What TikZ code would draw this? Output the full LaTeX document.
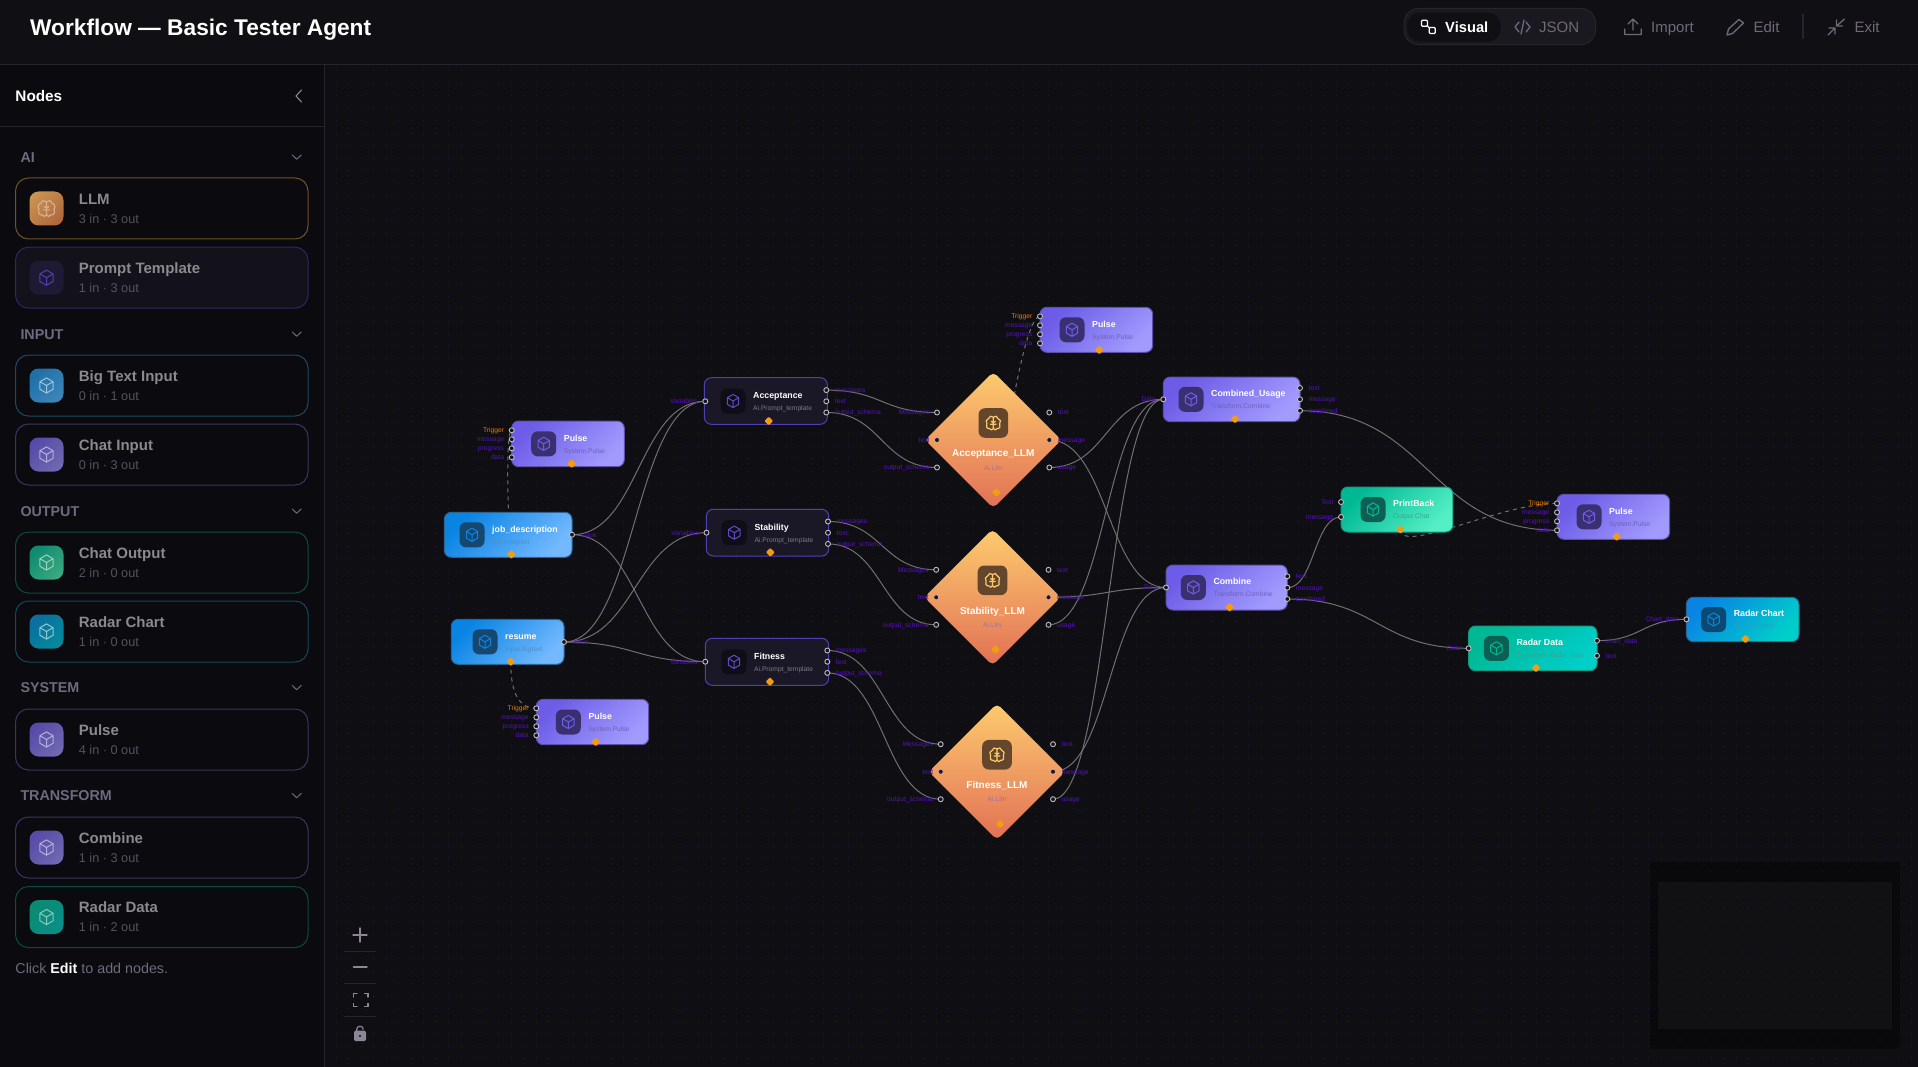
\documentclass[tikz,border=0pt]{standalone}
\usepackage{fontspec}
\setmainfont{Liberation Sans}
\usetikzlibrary{positioning,shapes.geometric,calc}
\pgfdeclarelayer{backdrop}
\pgfdeclarelayer{wires}
\pgfsetlayers{backdrop,wires,main}

\newcommand{\fs}[1]{\fontsize{#1}{#1}\selectfont}

\definecolor{canvasbg}{HTML}{0F0F13}
\definecolor{sidebg}{HTML}{0B0A0E}
\definecolor{topbg}{HTML}{100F14}
\definecolor{pillbg}{HTML}{1A191F}
\definecolor{rulecol}{HTML}{27242D}
\definecolor{griddot}{HTML}{221C3C}
\definecolor{portcol}{HTML}{5510BF}
\definecolor{trigcol}{HTML}{F07A00}
\definecolor{pincol}{HTML}{F39C12}
\definecolor{wirecol}{HTML}{707073}
\definecolor{chromecol}{HTML}{6F6A78}
\definecolor{toolcol}{HTML}{8D8598}
\definecolor{pulseA}{HTML}{6C5CE7}
\definecolor{pulseB}{HTML}{A29BFE}
\definecolor{pulseedge}{HTML}{5C50A8}
\definecolor{pulseicon}{HTML}{3A3070}
\definecolor{pulsesub}{HTML}{6E62B8}
\definecolor{inputA}{HTML}{0984E3}
\definecolor{inputB}{HTML}{74B9FF}
\definecolor{inputedge}{HTML}{2A6490}
\definecolor{inputicon}{HTML}{15476F}
\definecolor{inputsub}{HTML}{4F8FCC}
\definecolor{promptbg}{HTML}{1A1726}
\definecolor{promptedge}{HTML}{4F3FB5}
\definecolor{prompticon}{HTML}{0F0D16}
\definecolor{promptcube}{HTML}{5B4CCC}
\definecolor{promptsub}{HTML}{7E7A88}
\definecolor{chatA}{HTML}{00B894}
\definecolor{chatB}{HTML}{55EFC4}
\definecolor{chatedge}{HTML}{129A80}
\definecolor{chaticon}{HTML}{0C5F52}
\definecolor{chatsub}{HTML}{3AA595}
\definecolor{radarB}{HTML}{00CEC9}
\definecolor{radaricon}{HTML}{0A4A72}
\definecolor{radarsub}{HTML}{2E9FC0}
\definecolor{llmA}{HTML}{FDCB6E}
\definecolor{llmB}{HTML}{E17055}
\definecolor{llmicon}{HTML}{63462C}
\definecolor{llmsub}{HTML}{A5709A}
\definecolor{handleedge}{HTML}{BDBAC2}
\definecolor{handlebg}{HTML}{15141C}
\definecolor{handleglow}{HTML}{E8B088}
\definecolor{handledark}{HTML}{15153A}
\definecolor{sidetext}{HTML}{8A8A8E}
\definecolor{sidemuted}{HTML}{55525E}
\definecolor{sectioncol}{HTML}{6E6A80}
% sidebar tints
\definecolor{llmrim}{HTML}{6D5329}
\definecolor{llmtileA}{HTML}{C8924F}
\definecolor{llmtileB}{HTML}{B0683F}
\definecolor{llmglyph}{HTML}{D8B090}
\definecolor{promptrim}{HTML}{2C2766}
\definecolor{promptcard}{HTML}{13121B}
\definecolor{prompttile}{HTML}{1E1A33}
\definecolor{promptglyph}{HTML}{4F3FB5}
\definecolor{bigrim}{HTML}{1D4864}
\definecolor{bigtileA}{HTML}{1F6FA8}
\definecolor{bigtileB}{HTML}{3B86B8}
\definecolor{bigglyph}{HTML}{9CC4DC}
\definecolor{violetrim}{HTML}{3A3560}
\definecolor{violettileA}{HTML}{574BA8}
\definecolor{violettileB}{HTML}{6F68B0}
\definecolor{violetglyph}{HTML}{B4AEDC}
\definecolor{chatrim}{HTML}{0F4A3C}
\definecolor{chattileA}{HTML}{0E8A70}
\definecolor{chattileB}{HTML}{3AA880}
\definecolor{chatglyph}{HTML}{9CD0BC}
\definecolor{chartrim}{HTML}{11485A}
\definecolor{charttileA}{HTML}{0A6EA0}
\definecolor{charttileB}{HTML}{058A9A}
\definecolor{chartglyph}{HTML}{94C6D4}
\definecolor{datarim}{HTML}{0C4A40}
\definecolor{datatileA}{HTML}{0A8A72}
\definecolor{datatileB}{HTML}{0A8F88}
\definecolor{dataglyph}{HTML}{8CC8BE}

\tikzstyle{textline}=[inner sep=0pt,text depth=0pt,execute at begin node={\rule{0pt}{.72em}}]
\tikzstyle{panelname}=[textline,anchor=west,text=white,font=\fs{8.8}\bfseries]
\tikzstyle{panelsub}=[textline,anchor=west,font=\fs{6.7}]
\tikzstyle{iconbox}=[inner sep=0pt,outer sep=0pt,minimum size=25pt,rounded corners=6.5pt]
\tikzstyle{flowcard}=[inner sep=0pt,outer sep=0pt,rounded corners=7pt,line width=1pt]
\tikzset{
  boxpulse/.style={flowcard,draw=pulseedge,top color=pulseA,bottom color=pulseB,shading angle=45},
  boxinput/.style={flowcard,draw=inputedge,top color=inputA,bottom color=inputB,shading angle=45},
  boxprompt/.style={flowcard,draw=promptedge,fill=promptbg},
  boxchat/.style={flowcard,draw=chatedge,top color=chatA,bottom color=chatB,shading angle=45},
  boxradardata/.style={flowcard,draw=chatedge,top color=chatA,bottom color=radarB,shading angle=45},
  boxradarchart/.style={flowcard,draw=inputedge,top color=inputA,bottom color=radarB,shading angle=45},
  iconpulse/.style={fill=pulseicon}, cubepulse/.style={draw=pulseA}, subpulse/.style={text=pulsesub},
  iconinput/.style={fill=inputicon}, cubeinput/.style={draw=inputA}, subinput/.style={text=inputsub},
  iconprompt/.style={fill=prompticon}, cubeprompt/.style={draw=promptcube}, subprompt/.style={text=promptsub},
  iconchat/.style={fill=chaticon}, cubechat/.style={draw=chatA}, subchat/.style={text=chatsub},
  iconradardata/.style={fill=chaticon}, cuberadardata/.style={draw=chatA}, subradardata/.style={text=chatsub},
  iconradarchart/.style={fill=radaricon}, cuberadarchart/.style={draw=inputA}, subradarchart/.style={text=radarsub},
  handle/.style={circle,draw=handleedge,fill=handlebg,line width=0.9pt,minimum size=5pt,inner sep=0pt},
  handlein/.style={circle,draw=handleglow,fill=handledark,line width=0.6pt,minimum size=5pt,inner sep=0pt},
  portlabel/.style={textline,text=portcol,font=\fs{6.7}},
  flowpin/.style={diamond,fill=pincol,minimum size=9pt,inner sep=0pt,rounded corners=1pt},
  llmshape/.style={diamond,aspect=1,minimum width=136.5pt,minimum height=136.5pt,inner sep=0pt,
    top color=llmA,bottom color=llmB,rounded corners=5pt},
  wirestyle/.style={draw=wirecol,line width=1pt},
  trigwire/.style={wirestyle,dash pattern=on 4pt off 4pt},
  sidecard/.style={inner sep=0pt,outer sep=0pt,minimum width=292.5pt,minimum height=61pt,rounded corners=13pt,line width=1pt},
  sideicon/.style={inner sep=0pt,minimum size=34pt,rounded corners=9pt},
  sidename/.style={textline,anchor=west,text=sidetext,font=\fs{15}\bfseries},
  sidesub/.style={textline,anchor=west,text=sidemuted,font=\fs{12.7}},
  sectionhead/.style={textline,anchor=west,text=sectioncol,font=\fs{14.3}\bfseries},
  chromebtn/.style={textline,anchor=west,text=chromecol,font=\fs{15}},
  chromeline/.style={draw=chromecol,line width=1.3pt,line cap=round,line join=round},
  toolline/.style={draw=toolcol,line width=1.4pt,line cap=round},
  pics/cube/.style={code={
    \draw[line width=1pt,line join=round,pic actions]
      (0,-6.6) -- (5.7,-3.3) -- (5.7,3.3) -- (0,6.6) -- (-5.7,3.3) -- (-5.7,-3.3) -- cycle
      (-5.7,-3.3) -- (0,0) -- (5.7,-3.3) (0,0) -- (0,6.6);
  }},
  pics/brain/.style={code={
    \draw[line width=1.2pt,line join=round,line cap=round,pic actions]
      (0,-5.8) .. controls (-1.5,-7.6) and (-4.6,-7) .. (-4.6,-4.6)
        .. controls (-7.4,-4.2) and (-8,-0.6) .. (-6.4,0.6)
        .. controls (-8,2.8) and (-6.2,6.2) .. (-3.8,5.6)
        .. controls (-3,7.4) and (-0.6,7.4) .. (0,5.4) -- cycle
      (0,-5.8) .. controls (1.5,-7.6) and (4.6,-7) .. (4.6,-4.6)
        .. controls (7.4,-4.2) and (8,-0.6) .. (6.4,0.6)
        .. controls (8,2.8) and (6.2,6.2) .. (3.8,5.6)
        .. controls (3,7.4) and (0.6,7.4) .. (0,5.4)
      (-2.8,1.2) -- (2.8,1.2) (-2,-1.6) -- (0,-0.4) -- (2,-1.6);
  }},
}

\newcommand{\flowbox}[9]{
  \node[box#2,minimum width={(#5-#3)*1pt},minimum height={(#6-#4)*1pt}] (#1) at ({(#3+#5)/2},{(#4+#6)/2}) {};
  \node[iconbox,icon#2] (#1_icon) at ({#3+#7},{(#4+#6)/2}) {};
  \pic[cube#2] at (#1_icon) {cube};
  \node[panelname] (#1_name) at ({#3+#7+20},{(#4+#6)/2-5.8}) {#8};
  \node[panelsub,sub#2] (#1_sub) at ({#3+#7+20},{(#4+#6)/2+7}) {#9};
}
\newcommand{\portin}[5][]{
  \node[handle] (#2) at (#3,#4) {};
  \node[portlabel,left=4.5pt of #2,#1] (#2_tag) {#5};
}
\newcommand{\portout}[4]{
  \node[handle] (#1) at (#2,#3) {};
  \node[portlabel,right=5.5pt of #1] (#1_tag) {#4};
}
\newcommand{\pulseports}[3]{
  \portin[text=trigcol]{#1_trigger}{#2}{#3}{Trigger}
  \portin{#1_message}{#2}{#3+9}{message}
  \portin{#1_progress}{#2}{#3+18}{progress}
  \portin{#1_data}{#2}{#3+27}{data}
}
\newcommand{\promptports}[4]{
  \portout{#1_messages}{#2}{#3-11.2}{messages}
  \portout{#1_text}{#2}{#3}{text}
  \portout{#1_schema}{#2}{#3+11.2}{output\_schema}
  \portin{#1_vars}{#4}{#3}{Variables}
}
\newcommand{\llmbox}[4]{
  \node[llmshape] (#1) at (#2,#3) {};
  \node[iconbox,minimum size=29.6pt,fill=llmicon] (#1_icon) at (#2,#3-17) {};
  \pic[draw=llmA] at (#1_icon) {brain};
  \node[panelname,anchor=center,font=\fs{10}\bfseries] (#1_name) at (#2,#3+13.3) {#4};
  \node[panelsub,anchor=center,text=llmsub] (#1_sub) at (#2,#3+27.7) {Ai.Llm};
  \node[flowpin] (#1_pin) at (#2+3,#3+52.3) {};
  \portin{#1_messages}{#2-56.3}{#3-27.5}{Messages}
  \node[handlein] (#1_prompt) at (#2-56.3,#3) {};
  \node[portlabel,left=4.5pt of #1_prompt] (#1_prompt_tag) {text};
  \portin{#1_schema}{#2-56.3}{#3+27.5}{output\_schema}
  \portout{#1_text}{#2+56}{#3-27.5}{text}
  \node[handlein] (#1_message) at (#2+56,#3) {};
  \node[portlabel,right=5.5pt of #1_message] (#1_message_tag) {message};
  \portout{#1_usage}{#2+56}{#3+27.5}{usage}
}
\newcommand{\sideitem}[8]{
  \node[sidecard,#3] (#1) at (161.75,#2) {};
  \node[sideicon,#4] (#1_icon) at (46.5,#2) {};
  \pic[scale=1.15,draw=#5] at (#1_icon) {#6};
  \node[sidename] (#1_name) at (78.7,#2-9.5) {#7};
  \node[sidesub] (#1_sub) at (78.7,#2+10.2) {#8};
}
\newcommand{\sidehead}[3]{
  \node[sectionhead] (#1) at (20.3,#2) {#3};
  \draw[draw=chromecol,line width=1pt,line cap=round,line join=round] (292.2,#2-2) -- (296.7,#2+2.2) -- (301.2,#2-2);
}
\newcommand{\wire}[2]{
  \draw[wirestyle] let \p1=(#1), \p2=(#2), \n1={(\x2-\x1)/2} in
    (#1.center) .. controls +(\n1,0) and +(-\n1,0) .. (#2.center);
}

\begin{document}
\begin{tikzpicture}[x=1pt,y=-1pt]
  \useasboundingbox (0,0) rectangle (1918,1067);

  \begin{pgfonlayer}{backdrop}
    \fill[canvasbg] (0,0) rectangle (1918,1067);
    \foreach \k in {0,...,79} {
      \draw[griddot,line width=1pt,dash pattern=on 1pt off 11.5pt] (335.8,71+12.5*\k) -- (1918,71+12.5*\k);
    }
    % minimap
    \fill[black,opacity=0.38] (1650,862) rectangle (1900,1049);
    \fill[white,opacity=0.035] (1657.7,882) rectangle (1892.3,1029.3);
  \end{pgfonlayer}

  % page frame
  \fill[sidebg] (0,65) rectangle (324.5,1067);
  \fill[topbg] (0,0) rectangle (1918,65);
  \draw[rulecol,line width=1pt] (0,65) -- (1918,65);
  \draw[rulecol,line width=1pt] (324.5,65) -- (324.5,1067);
  \draw[rulecol,line width=1pt] (0,126.3) -- (324.5,126.3);

  \node[textline,anchor=west,text=white,font=\fs{22.7}\bfseries] (page_title) at (30,27) {Workflow — Basic Tester Agent};

  % mode switch and actions
  \draw[draw=rulecol,fill=pillbg,line width=1pt,rounded corners=15pt] (1404,8.3) rectangle (1595.5,44.7);
  \fill[fill=topbg,rounded corners=13pt] (1407,12.7) rectangle (1500.8,41.7);
  \draw[draw=white,line width=1.2pt,rounded corners=1pt] (1421.5,20.3) rectangle (1427.5,26.3) (1429.3,27.5) rectangle (1435.3,33.5);
  \draw[draw=white,line width=1.2pt] (1427.5,26.3) -- (1429.3,27.5);
  \node[chromebtn,text=white,font=\fs{14.7}\bfseries] (mode_visual) at (1445,27) {Visual};
  \draw[chromeline] (1519,22) -- (1515,27) -- (1519,32) (1526,22) -- (1530,27) -- (1526,32) (1524,20) -- (1521,34);
  \node[chromebtn] (mode_json) at (1539,27) {JSON};
  \draw[chromeline] (1624.8,29) -- (1624.8,34.6) -- (1641.2,34.6) -- (1641.2,29) (1633,30) -- (1633,19) (1628,24) -- (1633,19) -- (1638,24);
  \node[chromebtn] (act_import) at (1651,27) {Import};
  \draw[chromeline] (1727,35) -- (1728.5,29) -- (1739,19.4) -- (1743.4,23) -- (1732.5,33.5) -- cycle;
  \node[chromebtn] (act_edit) at (1753.4,27) {Edit};
  \draw[rulecol,line width=1.2pt] (1803,14) -- (1803,39);
  \draw[chromeline] (1836.5,26) -- (1844.5,19) (1836.5,20) -- (1836.5,26) -- (1842.5,26) (1828,35) -- (1835,28) (1829,28) -- (1835,28) -- (1835,34);
  \node[chromebtn] (act_exit) at (1854.3,27) {Exit};

  % sidebar
  \node[textline,anchor=west,text=white,font=\fs{15.3}\bfseries] (side_title) at (15.3,96) {Nodes};
  \draw[draw=toolcol,line width=1.1pt,line cap=round,line join=round] (301.5,90) -- (296,96) -- (301.5,102);

  \sidehead{head_ai}{157}{AI}
  \sideitem{item_llm}{208.5}{draw=llmrim}{top color=llmtileA,bottom color=llmtileB,shading angle=45}{llmglyph}{brain}{LLM}{3 in · 3 out}
  \sideitem{item_prompt}{277.7}{draw=promptrim,fill=promptcard}{fill=prompttile}{promptglyph}{cube}{Prompt Template}{1 in · 3 out}
  \sidehead{head_input}{334}{INPUT}
  \sideitem{item_bigtext}{385.5}{draw=bigrim}{top color=bigtileA,bottom color=bigtileB,shading angle=45}{bigglyph}{cube}{Big Text Input}{0 in · 1 out}
  \sideitem{item_chatin}{454.5}{draw=violetrim}{top color=violettileA,bottom color=violettileB,shading angle=45}{violetglyph}{cube}{Chat Input}{0 in · 3 out}
  \sidehead{head_output}{511}{OUTPUT}
  \sideitem{item_chatout}{562.5}{draw=chatrim}{top color=chattileA,bottom color=chattileB,shading angle=45}{chatglyph}{cube}{Chat Output}{2 in · 0 out}
  \sideitem{item_radarchart}{631.5}{draw=chartrim}{top color=charttileA,bottom color=charttileB,shading angle=45}{chartglyph}{cube}{Radar Chart}{1 in · 0 out}
  \sidehead{head_system}{687.5}{SYSTEM}
  \sideitem{item_pulse}{739.5}{draw=violetrim}{top color=violettileA,bottom color=violettileB,shading angle=45}{violetglyph}{cube}{Pulse}{4 in · 0 out}
  \sidehead{head_transform}{795.5}{TRANSFORM}
  \sideitem{item_combine}{847.5}{draw=violetrim}{top color=violettileA,bottom color=violettileB,shading angle=45}{violetglyph}{cube}{Combine}{1 in · 3 out}
  \sideitem{item_radardata}{917}{draw=datarim}{top color=datatileA,bottom color=datatileB,shading angle=45}{dataglyph}{cube}{Radar Data}{1 in · 2 out}
  \node[textline,anchor=west,text=sectioncol,font=\fs{14.3}] (side_hint) at (15.3,968) {Click \textcolor{white}{\bfseries Edit} to add nodes.};

  % zoom tools
  \draw[toolline] (353,935) -- (367,935) (360,928) -- (360,942);
  \draw[rulecol,line width=1pt] (344,951) -- (376,951);
  \draw[toolline] (353.5,967) -- (367,967);
  \draw[rulecol,line width=1pt] (344,983.3) -- (376,983.3);
  \draw[toolline] (353.5,997) -- (353.5,993.5) -- (357,993.5) (364.5,993.5) -- (368,993.5) -- (368,997) (368,1003.5) -- (368,1006.7) -- (364.5,1006.7) (357,1006.7) -- (353.5,1006.7) -- (353.5,1003.5);
  \draw[rulecol,line width=1pt] (344,1016.3) -- (376,1016.3);
  \draw[toolcol,line width=1.2pt] (356.7,1031) -- (356.7,1029.5) arc[start angle=180,end angle=360,radius=3.3];
  \fill[toolcol,rounded corners=1.5pt] (354,1030.7) rectangle (366,1041);
  \fill[sidebg] (360,1036) circle (1.2pt);

  % flow nodes
  \flowbox{job}{input}{444.3}{512.3}{572}{557.3}{27.7}{job\_description}{Input.Bigtext}
  \node[flowpin] (job_pin) at (511.3,554.3) {};
  \portout{job_value}{572}{534.7}{value}

  \flowbox{resume}{input}{451.3}{619.3}{564}{664.3}{33.7}{resume}{Input.Bigtext}
  \node[flowpin] (resume_pin) at (510.7,661.7) {};
  \portout{resume_value}{564}{642}{value}

  \flowbox{pulse_a}{pulse}{511.7}{421}{624.3}{466.7}{32}{Pulse}{System.Pulse}
  \node[flowpin] (pulse_a_pin) at (571.7,463.7) {};
  \pulseports{pulse_a}{511.7}{430.3}

  \flowbox{pulse_b}{pulse}{1040}{307.3}{1152.7}{352.3}{32}{Pulse}{System.Pulse}
  \node[flowpin] (pulse_b_pin) at (1099.3,350) {};
  \pulseports{pulse_b}{1040}{316.3}

  \flowbox{pulse_c}{pulse}{536.3}{699.3}{648.7}{744.7}{32}{Pulse}{System.Pulse}
  \node[flowpin] (pulse_c_pin) at (595.7,742) {};
  \pulseports{pulse_c}{536.3}{708.3}

  \flowbox{pulse_d}{pulse}{1557}{494.3}{1669.6}{539.3}{32}{Pulse}{System.Pulse}
  \node[flowpin] (pulse_d_pin) at (1616.8,536.7) {};
  \pulseports{pulse_d}{1557}{503.3}

  \flowbox{acceptance}{prompt}{704.3}{377.7}{827.3}{424.3}{28.7}{Acceptance}{Ai.Prompt\_template}
  \node[flowpin] (acceptance_pin) at (768.7,421) {};
  \promptports{acceptance}{826.3}{401.3}{705.3}

  \flowbox{stability}{prompt}{706.3}{509.3}{828.7}{556}{28}{Stability}{Ai.Prompt\_template}
  \node[flowpin] (stability_pin) at (770.3,552.3) {};
  \promptports{stability}{828}{532.7}{706.5}

  \flowbox{fitness}{prompt}{705.3}{638.3}{828.7}{685.3}{28.7}{Fitness}{Ai.Prompt\_template}
  \node[flowpin] (fitness_pin) at (770,681.7) {};
  \promptports{fitness}{827.3}{661.7}{705.3}

  \llmbox{acceptance_llm}{993.3}{440}{Acceptance\_LLM}
  \llmbox{stability_llm}{992.5}{597.3}{Stability\_LLM}
  \llmbox{fitness_llm}{997}{771.7}{Fitness\_LLM}

  \flowbox{usage}{pulse}{1163.3}{377}{1300}{421.7}{27.7}{Combined\_Usage}{Transform.Combine}
  \node[flowpin] (usage_pin) at (1235,419) {};
  \portin{usage_data}{1163.3}{399.3}{Data}
  \portout{usage_text}{1300}{388}{text}
  \portout{usage_message}{1300}{399.3}{message}
  \portout{usage_combined}{1300}{410.7}{combined}

  \flowbox{combine}{pulse}{1166}{565}{1287.3}{610}{27.3}{Combine}{Transform.Combine}
  \node[flowpin] (combine_pin) at (1229.7,607.3) {};
  \portin{combine_data}{1166}{587.5}{Data}
  \portout{combine_text}{1287.3}{576.3}{text}
  \portout{combine_message}{1287.3}{587.7}{message}
  \portout{combine_combined}{1287.3}{599}{combined}

  \flowbox{printback}{chat}{1341}{487}{1452.9}{532}{32}{PrintBack}{Output.Chat}
  \node[flowpin] (printback_pin) at (1400.4,529.3) {};
  \portin{printback_text}{1341}{502}{Text}
  \portin{printback_message}{1341}{517}{message}

  \flowbox{radar_data}{radardata}{1468.6}{626}{1597}{670.7}{27.8}{Radar Data}{Transform.Radar\_data}
  \node[flowpin] (radar_data_pin) at (1536,668) {};
  \portin{radar_data_in}{1468.6}{648.3}{Data}
  \portout{radar_data_chart}{1597}{640.7}{chart\_data}
  \portout{radar_data_text}{1597}{655.7}{text}

  \flowbox{radar_chart}{radarchart}{1686.4}{597.3}{1799}{641.7}{27.2}{Radar Chart}{Output.Radar}
  \node[flowpin] (radar_chart_pin) at (1745.4,639) {};
  \portin{radar_chart_in}{1686.4}{619.3}{Chart\_data}

  % connectors
  \begin{pgfonlayer}{wires}
    \wire{job_value}{acceptance_vars}
    \wire{job_value}{fitness_vars}
    \wire{resume_value}{acceptance_vars}
    \wire{resume_value}{stability_vars}
    \wire{resume_value}{fitness_vars}
    \wire{acceptance_messages}{acceptance_llm_messages}
    \wire{acceptance_schema}{acceptance_llm_schema}
    \wire{stability_messages}{stability_llm_messages}
    \wire{stability_schema}{stability_llm_schema}
    \wire{fitness_messages}{fitness_llm_messages}
    \wire{fitness_schema}{fitness_llm_schema}
    \wire{acceptance_llm_usage}{usage_data}
    \wire{stability_llm_usage}{usage_data}
    \wire{fitness_llm_usage}{usage_data}
    \wire{acceptance_llm_message}{combine_data}
    \wire{stability_llm_message}{combine_data}
    \wire{fitness_llm_message}{combine_data}
    \wire{usage_combined}{pulse_d_data}
    \wire{combine_message}{printback_message}
    \wire{combine_combined}{radar_data_in}
    \wire{radar_data_chart}{radar_chart_in}
    \draw[trigwire] (job_pin.center) .. controls (511.3,590) and (503,430.3) .. (pulse_a_trigger.center);
    \draw[trigwire] (resume_pin.center) .. controls (510.7,685) and (515,708.3) .. (pulse_c_trigger.center);
    \draw[trigwire] (acceptance_llm_pin.center) .. controls (996.3,520) and (1020,316.3) .. (pulse_b_trigger.center);
    \draw[trigwire] (printback_pin.center) .. controls (1400.4,555) and (1500,503.3) .. (pulse_d_trigger.center);
  \end{pgfonlayer}
\end{tikzpicture}
\end{document}
